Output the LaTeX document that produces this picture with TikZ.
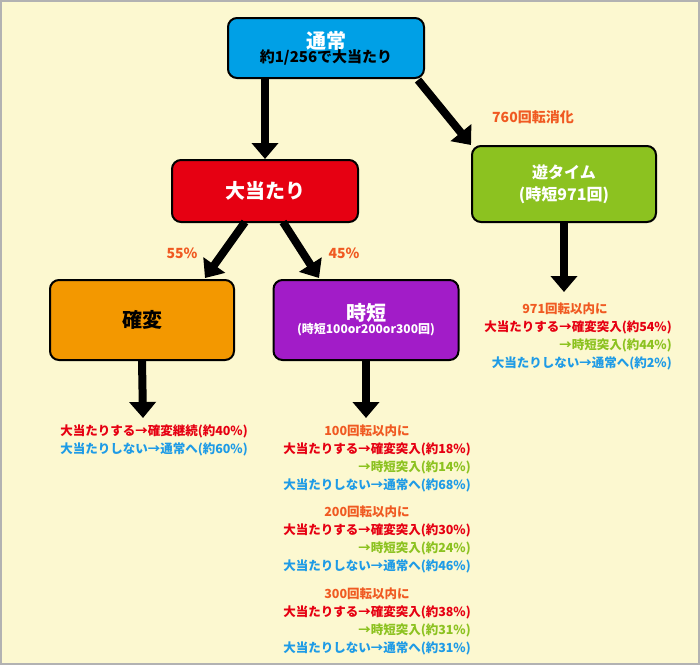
\documentclass[tikz,border=0pt]{standalone}
\usepackage{fontspec}
\newfontfamily\jp{Noto Sans CJK JP}
\usetikzlibrary{arrows.meta}
\definecolor{bg}{HTML}{FCF8D0}
\definecolor{cyanbox}{HTML}{00A0E6}
\definecolor{redbox}{HTML}{E60012}
\definecolor{greenbox}{HTML}{8CC220}
\definecolor{orangebox}{HTML}{F39800}
\definecolor{purplebox}{HTML}{A21CC8}
\definecolor{txtorange}{HTML}{F05A22}
\definecolor{txtred}{HTML}{E60012}
\definecolor{txtgreen}{HTML}{8CC220}
\definecolor{txtblue}{HTML}{1E9BE6}
\tikzset{
  box/.style={draw=black, line width=2pt, rounded corners=9pt, align=center, font=\jp\bfseries},
  flow/.style={line width=8pt, -{Triangle[length=16pt,width=26pt]}},
  pct/.style={font=\jp\bfseries\fontsize{14}{16}\selectfont, text=txtorange},
  res/.style={font=\jp\bfseries\fontsize{12.5}{14}\selectfont, inner sep=0pt, anchor=east},
  head/.style={font=\jp\bfseries\fontsize{12.5}{14}\selectfont, inner sep=0pt, text=txtorange}
}
\begin{document}
\begin{tikzpicture}[x=1pt,y=-1pt]
  \fill[bg] (0,0) rectangle (700,665);
  \draw[gray!60, line width=1.5pt] (1,1) rectangle (699,664);

  % boxes
  \node[box, fill=cyanbox, minimum width=196pt, minimum height=60pt] (normal) at (326,48)
    {\textcolor{white}{\fontsize{20}{22}\selectfont 通常}\\[-2pt]{\fontsize{15}{17}\selectfont 約1/256で大当たり}};
  \node[box, fill=redbox, text=white, minimum width=186pt, minimum height=62pt, font=\jp\bfseries\fontsize{20}{22}\selectfont] (hit) at (265,191) {大当たり};
  \node[box, fill=greenbox, text=white, minimum width=184pt, minimum height=76pt, font=\jp\bfseries\fontsize{16}{22}\selectfont] (yu) at (564,184) {遊タイム\\(時短971回)};
  \node[box, fill=orangebox, minimum width=184pt, minimum height=80pt, font=\jp\bfseries\fontsize{20}{22}\selectfont] (kakuhen) at (142,320) {確変};
  \node[box, fill=purplebox, text=white, minimum width=185pt, minimum height=80pt] (jitan) at (366,320)
    {{\fontsize{20}{24}\selectfont 時短}\\{\fontsize{12}{14}\selectfont (時短100or200or300回)}};

  % arrows
  \coordinate (kend) at (143,418);
  \coordinate (jend) at (366,418);
  \draw[flow] (normal.south -| hit) -- (hit.north);
  \draw[flow] (418,80) -- (yu.north west);
  \draw[flow] (245,222) -- (205,278);
  \draw[flow] (283,222) -- (319,278);
  \draw[flow] (yu.south) -- (564,292);
  \draw[flow] (kakuhen.south) -- (kend);
  \draw[flow] (jitan.south) -- (jend);

  \node[pct] (p760) at (533,117) {760回転消化};
  \node[pct] (p55) at (182,253) {55\%};
  \node[pct] (p45) at (344,253) {45\%};

  % results
  \node[res, text=txtred] (k1) at (248,431) {大当たりする→確変継続(約40\%)};
  \node[res, text=txtblue] (k2) at (248,449) {大当たりしない→通常へ(約60\%)};

  \foreach \n/\y/\a/\b/\c in {100/431/18/14/68, 200/512/30/24/46, 300/594/38/31/31}{
    \node[head] at (367,\y) {\n 回転以内に};
    \node[res, text=txtred] at (471,\y+18) {大当たりする→確変突入(約\a\%)};
    \node[res, text=txtgreen] at (471,\y+36) {→時短突入(約\b\%)};
    \node[res, text=txtblue] at (471,\y+54) {大当たりしない→通常へ(約\c\%)};
  }

  \node[head] (y0) at (565,309) {971回転以内に};
  \node[res, text=txtred] (y1) at (672,327) {大当たりする→確変突入(約54\%)};
  \node[res, text=txtgreen] (y2) at (672,345) {→時短突入(約44\%)};
  \node[res, text=txtblue] (y3) at (672,363) {大当たりしない→通常へ(約2\%)};
\end{tikzpicture}
\end{document}
